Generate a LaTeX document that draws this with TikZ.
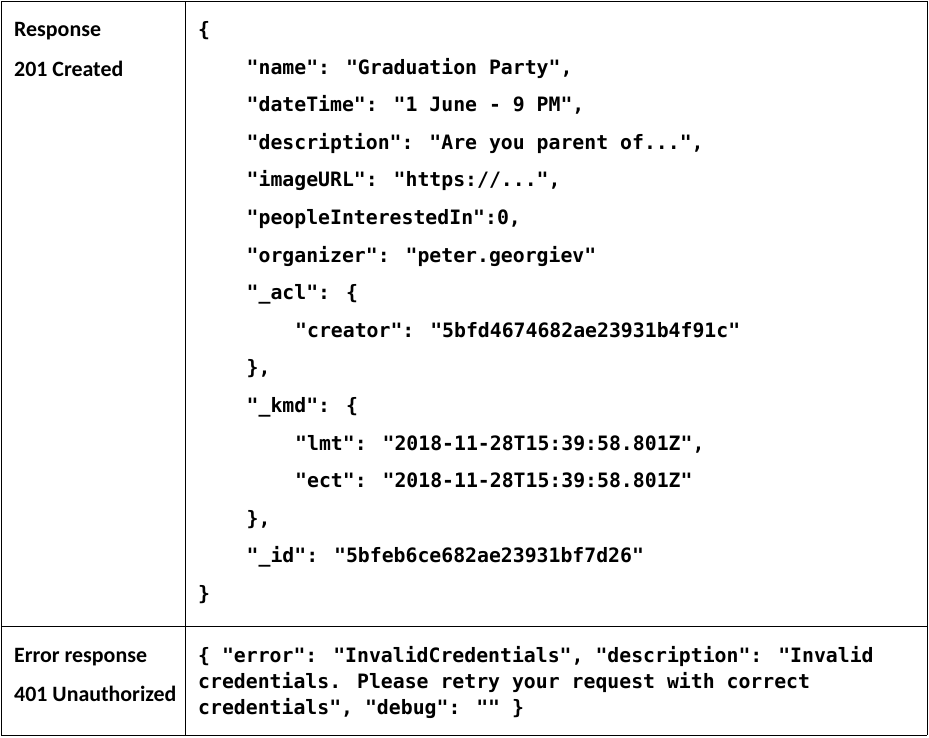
\documentclass[tikz,border=0pt]{standalone}
\usepackage{fontspec}
\setmainfont{Carlito}
\newfontfamily\jsonfont{DejaVu Sans Mono}
\usepackage{tikz}

\begin{document}
\begin{tikzpicture}[x=1pt, y=-1pt, every node/.style={anchor=base west, inner sep=0pt},
	every edge/.style={draw=black, line width=1pt},
	label/.style={font=\bfseries\fontsize{21.9}{26}\selectfont},
	json/.style={font=\jsonfont\bfseries\fontsize{19.8}{24}\selectfont}]
					\useasboundingbox (0,0) rectangle (929,737);
					
					\coordinate (t1) at (1,1);
					\coordinate (t2) at (185.5,1);
					\coordinate (t3) at (927,1);
					\coordinate (m1) at (1,626);
					\coordinate (m2) at (185.5,626);
					\coordinate (m3) at (927,626);
					\coordinate (b1) at (1,735);
					\coordinate (b2) at (185.5,735);
					\coordinate (b3) at (927,735);
					
					\path (t1) edge (t3);
					\path (m1) edge (m3);
					\path (b1) edge (b3);
					\path (t1) edge (b1);
					\path (t2) edge (b2);
					\path (t3) edge (b3);
					
					\node[label] (lab1) at (14,36.5){Response};
					\node[label] (lab2) at (14,76.5){201 Created};
					\node[label] (lab3) at (14,662){Error response};
					\node[label] (lab4) at (14,701){401 Unauthorized};
					
					\node[json] (r1) at (198,36.5){\{};
					\node[json] (r2) at (246.5,74.1){"name": "Graduation Party",};
					\node[json] (r3) at (246.5,111.7){"dateTime": "1 June - 9 PM",};
					\node[json] (r4) at (246.5,149.3){"description": "Are you parent of...",};
					\node[json] (r5) at (246.5,186.9){"imageURL": "https://...",};
					\node[json] (r6) at (246.5,224.5){"peopleInterestedIn":0,};
					\node[json] (r7) at (246.5,262.1){"organizer": "peter.georgiev"};
					\node[json] (r8) at (246.5,299.7){"\_acl": \{};
					\node[json] (r9) at (295,337.3){"creator": "5bfd4674682ae23931b4f91c"};
					\node[json] (r10) at (246.5,374.9){\},};
					\node[json] (r11) at (246.5,412.5){"\_kmd": \{};
					\node[json] (r12) at (295,450.1){"lmt": "2018-11-28T15:39:58.801Z",};
					\node[json] (r13) at (295,487.7){"ect": "2018-11-28T15:39:58.801Z"};
					\node[json] (r14) at (246.5,525.3){\},};
					\node[json] (r15) at (246.5,562.9){"\_id": "5bfeb6ce682ae23931bf7d26"};
					\node[json] (r16) at (198,600.5){\}};
					
					\node[json] (e1) at (198,662){\{ "error": "InvalidCredentials", "description": "Invalid};
					\node[json] (e2) at (198,688){credentials. Please retry your request with correct};
					\node[json] (e3) at (198,714){credentials", "debug": "" \}};
\end{tikzpicture}
\end{document}
